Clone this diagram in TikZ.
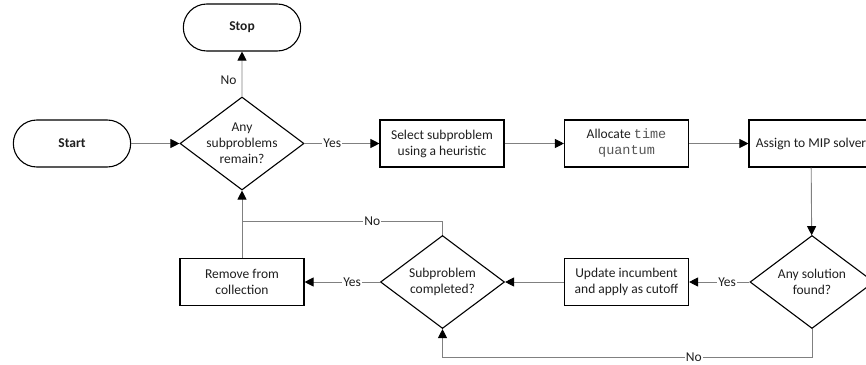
\documentclass[tikz,border=0pt]{standalone}
\usepackage{fontspec}
\setmainfont{Carlito}
\setmonofont{Liberation Mono}
\usetikzlibrary{arrows.meta, shapes.geometric, shapes.misc}
\definecolor{wire}{RGB}{128,128,128}
\definecolor{ink}{RGB}{30,30,30}

\begin{document}
\begin{tikzpicture}[x=1pt, y=-1pt, text=ink,
    font=\fontsize{13.5}{16}\selectfont,
    terminal/.style={rounded rectangle, draw, line width=1.1pt,
                     minimum width=124pt, minimum height=47pt,
                     font=\fontsize{13.5}{16}\selectfont\bfseries},
    process/.style={rectangle, draw, line width=1.1pt,
                    minimum width=124pt, minimum height=47pt,
                    align=center, inner sep=2pt},
    decision/.style={diamond, draw, line width=1.1pt,
                     minimum width=124pt, minimum height=93pt,
                     inner sep=-6pt, align=center},
    flow/.style={-{Triangle[length=9pt, width=9pt, color=black]},
                 draw=wire, line width=0.9pt},
    link/.style={draw=wire, line width=0.9pt},
    tag/.style={fill=white, inner sep=1pt},
]

\useasboundingbox (0,0) rectangle (866,364);
\clip (0,0) rectangle (866,364);

% ─── Top row ─────────────────────────────────────────────────────
\node[terminal] (start) at (72, 143.5) {Start};
\node[terminal] (stop) at (242, 27.5) {Stop};
\node[decision] (remain) at (242, 143.5) {Any\\subproblems\\remain?};
\node[process] (select) at (442, 143.5) {Select subproblem\\using a heuristic};
\node[process] (alloc) at (626.5, 143.5)
  {Allocate {\color{ink!75}\texttt{time}}\\{\color{ink!75}\texttt{quantum}}};
\node[process] (assign) at (811, 143.5) {Assign to MIP solver};

% ─── Bottom row ──────────────────────────────────────────────────
\node[decision] (found) at (812, 282) {Any solution\\found?};
\node[process] (update) at (626.5, 282) {Update incumbent\\and apply as cutoff};
\node[decision] (done) at (442.5, 282) {Subproblem\\completed?};
\node[process] (remove) at (242, 282) {Remove from\\collection};

\coordinate (merge) at (242, 221);

% ─── Connectors ──────────────────────────────────────────────────
\draw[flow] (start) -- (remain);
\draw[flow] (remain) -- (stop)
  node[pos=0.37, left=4pt, tag] {No};
\draw[flow] (remain) -- (select)
  node[pos=0.37, tag] {Yes};
\draw[flow] (select) -- (alloc);
\draw[flow] (alloc) -- (assign);
\draw[flow] (assign) -- (found);
\draw[flow] (found) -- (update)
  node[pos=0.37, tag] {Yes};
\draw[flow] (update) -- (done);
\draw[flow] (done) -- (remove)
  node[pos=0.37, tag] {Yes};
\draw[flow] (remove) -- (remain);
\draw[link] (done.north) |- (merge)
  node[pos=0.675, tag] {No};
\draw[flow] (found.south) -- ++(0, 28) -| (done.south)
  node[pos=0.16, tag] {No};

\end{tikzpicture}
\end{document}
